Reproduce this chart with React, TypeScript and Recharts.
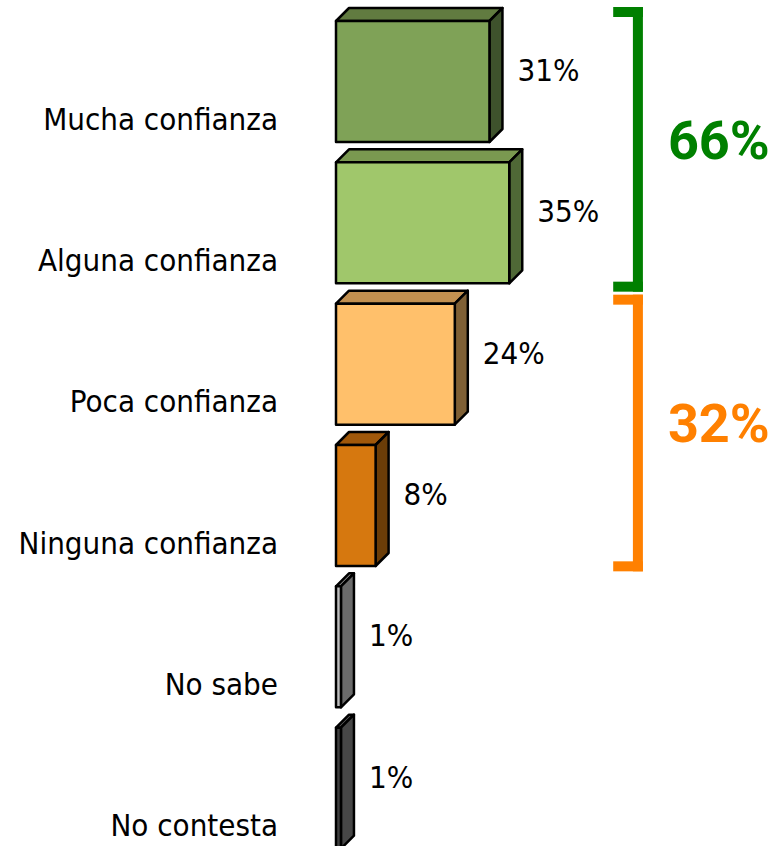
import React from 'react';
import { BarChart, Bar, XAxis, YAxis, Cell, LabelList, ReferenceArea } from 'recharts';

const categories = ['Mucha confianza', 'Alguna confianza', 'Poca confianza', 'Ninguna confianza', 'No sabe', 'No contesta'];
const values = [31, 35, 24, 8, 1, 1];

// grouped totals shown with brackets on the right
const positiveGroup = ['Mucha confianza', 'Alguna confianza'];
const negativeGroup = ['Poca confianza', 'Ninguna confianza'];

const frontColors = ['#7fa257', '#a0c76b', '#ffc06b', '#d6780f', '#bdbdbd', '#404040'];
const topColors = ['#617b40', '#7a9950', '#c29050', '#a0580a', '#8a8a8a', '#555555'];
const sideColors = ['#3e522c', '#4f6836', '#7f6035', '#6b3d08', '#6b6b6b', '#474747'];

const FONT = "'DejaVu Sans Condensed', 'DejaVu Sans', sans-serif";
const DEPTH = 13;

const data = categories.map((name, i) => ({ name, value: values[i] }));

const sumOf = (group: string[]) =>
  group.reduce((s, n) => s + values[categories.indexOf(n)], 0);

function Bar3D(props: any) {
  const { x, y, width, height, index } = props;
  const d = DEPTH;
  const top = `${x},${y} ${x + d},${y - d} ${x + width + d},${y - d} ${x + width},${y}`;
  const side = `${x + width},${y} ${x + width + d},${y - d} ${x + width + d},${y + height - d} ${x + width},${y + height}`;
  return (
    <g stroke="#000" strokeWidth={2.5} strokeLinejoin="round">
      <polygon points={top} fill={topColors[index]} />
      <polygon points={side} fill={sideColors[index]} />
      <rect x={x} y={y} width={width} height={height} fill={frontColors[index]} />
    </g>
  );
}

function ValueLabel(props: any) {
  const { x, y, width, value } = props;
  return (
    <text x={x + width + 28} y={y + 60} fontSize={31} fill="#000" fontFamily={FONT} style={{ fontStretch: 'condensed' }}>
      {value}%
    </text>
  );
}

function CatTick(props: any) {
  const { x, y, payload } = props;
  return (
    <text x={x} y={y + 48} textAnchor="end" fontSize={31} fill="#000" fontFamily={FONT} style={{ fontStretch: 'condensed' }}>
      {payload.value}
    </text>
  );
}

function makeBracket(color: string, total: number, padTop: number, padBottom: number) {
  return (props: any) => {
    const { x, y, width, height } = props;
    const t = 10;
    const y0 = y + padTop;
    const y1 = y + height - padBottom;
    const right = x + width;
    return (
      <g>
        <rect x={x} y={y0} width={width} height={t} fill={color} />
        <rect x={right - t} y={y0} width={t} height={y1 - y0} fill={color} />
        <rect x={x} y={y1 - t} width={width} height={t} fill={color} />
        <text
          x={right + 25}
          y={y + height / 2 - 12}
          dominantBaseline="central"
          fontSize={54}
          fontWeight="bold"
          fill={color}
          fontFamily="Roboto, sans-serif"
        >
          {total}%
        </text>
      </g>
    );
  };
}

export default function App() {
  return (
    <div style={{ position: 'absolute', left: 0, top: 0, width: 783, height: 846, overflow: 'hidden', background: '#fff' }}>
      <BarChart
        layout="vertical"
        width={783}
        height={870}
        data={data}
        margin={{ top: 11, right: 51, bottom: 11, left: 0 }}
        barSize={121}
      >
        <XAxis type="number" domain={[0, 80]} hide />
        <YAxis
          type="category"
          dataKey="name"
          width={336}
          axisLine={false}
          tickLine={false}
          tickSize={0}
          tickMargin={58}
          tick={<CatTick />}
          interval={0}
        />
        <ReferenceArea
          y1={positiveGroup[0]}
          y2={positiveGroup[positiveGroup.length - 1]}
          x1={56}
          x2={62}
          ifOverflow="visible"
          shape={makeBracket('#008000', sumOf(positiveGroup), -4, 2)}
        />
        <ReferenceArea
          y1={negativeGroup[0]}
          y2={negativeGroup[negativeGroup.length - 1]}
          x1={56}
          x2={62}
          ifOverflow="visible"
          shape={makeBracket('#ff8000', sumOf(negativeGroup), 1, 5)}
        />
        <Bar dataKey="value" isAnimationActive={false} shape={<Bar3D />}>
          {data.map((d, i) => (
            <Cell key={d.name} fill={frontColors[i]} />
          ))}
          <LabelList dataKey="value" content={<ValueLabel />} />
        </Bar>
      </BarChart>
    </div>
  );
}
